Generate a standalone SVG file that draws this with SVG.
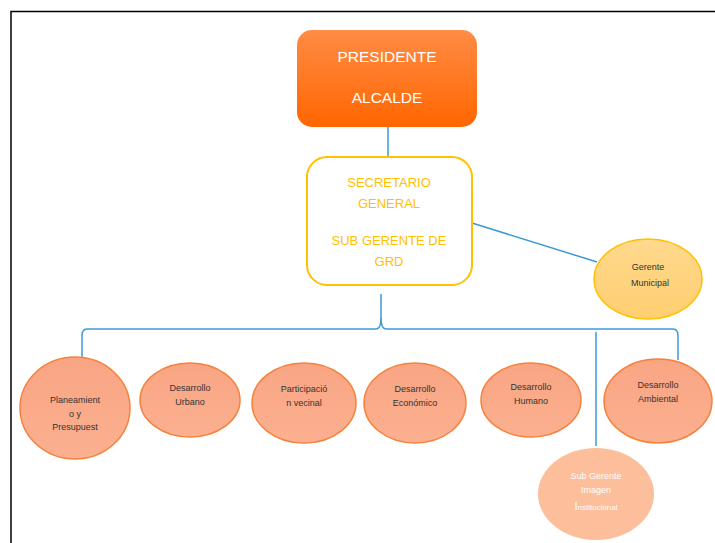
<svg xmlns="http://www.w3.org/2000/svg" width="715" height="543" viewBox="0 0 715 543">
<defs>
<linearGradient id="gOr" x1="0" y1="0" x2="0" y2="1"><stop offset="0" stop-color="#FF8C45"/><stop offset="1" stop-color="#FF6600"/></linearGradient>
<linearGradient id="gYe" x1="0" y1="0" x2="0" y2="1"><stop offset="0" stop-color="#FFD98E"/><stop offset="1" stop-color="#FFCF70"/></linearGradient>
<linearGradient id="gSa" x1="0" y1="0" x2="0" y2="1"><stop offset="0" stop-color="#F9A584"/><stop offset="1" stop-color="#FBB08F"/></linearGradient>
<style>
.t{font-family:"Liberation Sans",Arial,sans-serif;text-anchor:middle}
.top{fill:#FFFFFF;font-size:15.5px}
.sec{fill:#FFC000;font-size:13px}
.sm{fill:#333333;font-size:9px}
.el{fill:url(#gSa);stroke:#F5823C;stroke-width:1.5}
.con{fill:none;stroke:#3D9AD6;stroke-width:1.5}
</style>
</defs>
<rect width="715" height="543" fill="#FFFFFF"/>
<path d="M11,543 V11.5 H715" fill="none" stroke="#000" stroke-width="1.5"/>
<g id="connectors">
<path class="con" d="M388,127 V157"/>
<path class="con" d="M472,223 L597,262"/>
<path class="con" d="M381,294 V318 Q381,329 376,329 H87 Q82,329 82,336 V358"/>
<path class="con" d="M381,318 Q381,329 386,329 H673 Q678,329 678,336 V360"/>
<path class="con" d="M596,332 V446"/>
</g>
<g id="presidente">
<rect x="297" y="30" width="180" height="97" rx="15" fill="url(#gOr)"/>
<text class="t top" x="387" y="62">PRESIDENTE</text>
<text class="t top" x="387" y="103">ALCALDE</text>
</g>
<g id="secretario">
<rect x="307" y="157" width="165" height="128" rx="20" fill="#FFFFFF" stroke="#FFC000" stroke-width="2"/>
<text class="t sec" x="389" y="187">SECRETARIO</text>
<text class="t sec" x="389" y="208">GENERAL</text>
<text class="t sec" x="389" y="245">SUB GERENTE DE</text>
<text class="t sec" x="389" y="266">GRD</text>
</g>
<g id="gerente">
<ellipse cx="648" cy="279" rx="54" ry="40" fill="url(#gYe)" stroke="#FFC000" stroke-width="1.5"/>
<text class="t sm" x="648" y="270" font-size="10">Gerente</text>
<text class="t sm" x="650" y="286">Municipal</text>
</g>
<g id="planeamiento">
<ellipse class="el" cx="75" cy="408" rx="55" ry="51"/>
<text class="t sm" x="75" y="403">Planeamient</text>
<text class="t sm" x="75" y="417">o y</text>
<text class="t sm" x="75" y="430">Presupuest</text>
</g>
<g id="urbano">
<ellipse class="el" cx="190" cy="400" rx="50" ry="37"/>
<text class="t sm" x="190" y="391">Desarrollo</text>
<text class="t sm" x="190" y="405">Urbano</text>
</g>
<g id="participacion">
<ellipse class="el" cx="304" cy="403" rx="52" ry="40"/>
<text class="t sm" x="304" y="392">Participació</text>
<text class="t sm" x="304" y="406">n vecinal</text>
</g>
<g id="economico">
<ellipse class="el" cx="415" cy="403" rx="51" ry="40"/>
<text class="t sm" x="415" y="392">Desarrollo</text>
<text class="t sm" x="415" y="406">Económico</text>
</g>
<g id="humano">
<ellipse class="el" cx="531" cy="400" rx="50" ry="37"/>
<text class="t sm" x="531" y="390">Desarrollo</text>
<text class="t sm" x="531" y="404">Humano</text>
</g>
<g id="ambiental">
<ellipse class="el" cx="658" cy="401" rx="54" ry="42"/>
<text class="t sm" x="658" y="388">Desarrollo</text>
<text class="t sm" x="658" y="402">Ambiental</text>
</g>
<g id="imagen">
<ellipse cx="596" cy="494" rx="58" ry="46" fill="#FCBE9B"/>
<text class="t" x="596" y="479" fill="#FFFFFF" font-size="9">Sub Gerente</text>
<text class="t" x="596" y="493" fill="#FFFFFF" font-size="9">Imagen</text>
<text class="t" x="596" y="510" fill="#FFFFFF" font-size="8"><tspan font-size="11">I</tspan>nstitucional</text>
</g>
</svg>
